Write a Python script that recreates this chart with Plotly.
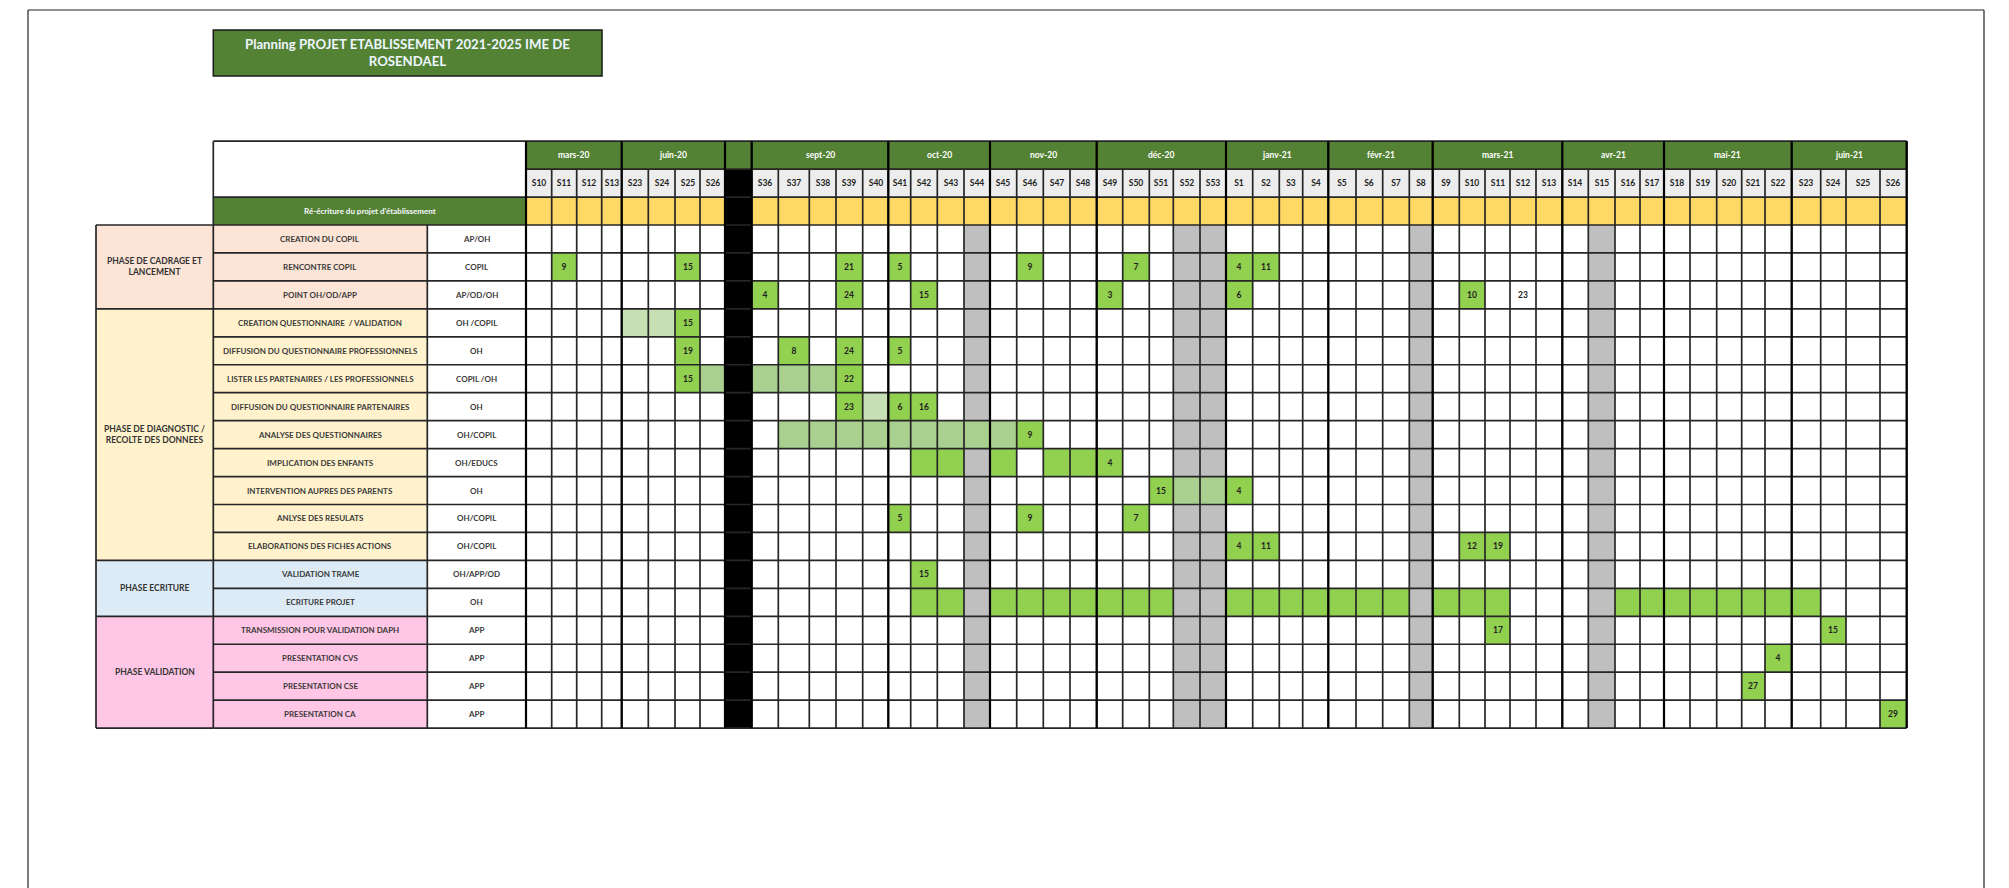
import plotly.graph_objects as go

# ---------------- data ----------------
title_text = "Planning PROJET ETABLISSEMENT 2021-2025 IME DE<br>ROSENDAEL"
section_title = "Ré-écriture du projet d'établissement"

months = ["mars-20", "juin-20", "", "sept-20", "oct-20", "nov-20", "déc-20",
          "janv-21", "févr-21", "mars-21", "avr-21", "mai-21", "juin-21"]
month_weeks = [4, 4, 1, 5, 4, 4, 5, 4, 4, 5, 4, 5, 4]
weeks = ["S10", "S11", "S12", "S13", "S23", "S24", "S25", "S26", "",
         "S36", "S37", "S38", "S39", "S40", "S41", "S42", "S43", "S44",
         "S45", "S46", "S47", "S48", "S49", "S50", "S51", "S52", "S53",
         "S1", "S2", "S3", "S4", "S5", "S6", "S7", "S8",
         "S9", "S10", "S11", "S12", "S13", "S14", "S15", "S16", "S17",
         "S18", "S19", "S20", "S21", "S22", "S23", "S24", "S25", "S26"]
break_weeks = [8]
holiday_weeks = [17, 25, 26, 34, 41]

phases = ["PHASE DE CADRAGE ET<br>LANCEMENT",
          "PHASE DE DIAGNOSTIC /<br>RECOLTE DES DONNEES",
          "PHASE ECRITURE",
          "PHASE VALIDATION"]
phase_tasks = [3, 9, 2, 4]
phase_colors = ["#FCE4D6", "#FFF2CC", "#DDEBF7", "#FFC6E5"]

tasks = ["CREATION DU COPIL", "RENCONTRE COPIL", "POINT OH/OD/APP",
         "CREATION QUESTIONNAIRE  / VALIDATION",
         "DIFFUSION DU QUESTIONNAIRE PROFESSIONNELS",
         "LISTER LES PARTENAIRES / LES PROFESSIONNELS",
         "DIFFUSION DU QUESTIONNAIRE PARTENAIRES",
         "ANALYSE DES QUESTIONNAIRES", "IMPLICATION DES ENFANTS",
         "INTERVENTION AUPRES DES PARENTS", "ANLYSE DES RESULATS",
         "ELABORATIONS DES FICHES ACTIONS",
         "VALIDATION TRAME", "ECRITURE PROJET",
         "TRANSMISSION POUR VALIDATION DAPH", "PRESENTATION CVS",
         "PRESENTATION CSE", "PRESENTATION CA"]
owners = ["AP/OH", "COPIL", "AP/OD/OH", "OH /COPIL", "OH", "COPIL /OH", "OH",
          "OH/COPIL", "OH/EDUCS", "OH", "OH/COPIL", "OH/COPIL",
          "OH/APP/OD", "OH", "APP", "APP", "APP", "APP"]

# (task index, week column, day label) -> dated meetings
milestones = [(1, 1, "9"), (1, 6, "15"), (1, 12, "21"), (1, 14, "5"), (1, 19, "9"),
              (1, 23, "7"), (1, 27, "4"), (1, 28, "11"),
              (2, 9, "4"), (2, 12, "24"), (2, 15, "15"), (2, 22, "3"), (2, 27, "6"),
              (2, 36, "10"),
              (3, 6, "15"),
              (4, 6, "19"), (4, 10, "8"), (4, 12, "24"), (4, 14, "5"),
              (5, 6, "15"), (5, 12, "22"),
              (6, 12, "23"), (6, 14, "6"), (6, 15, "16"),
              (7, 19, "9"),
              (8, 22, "4"),
              (9, 24, "15"), (9, 27, "4"),
              (10, 14, "5"), (10, 19, "9"), (10, 23, "7"),
              (11, 27, "4"), (11, 28, "11"), (11, 36, "12"), (11, 37, "19"),
              (12, 15, "15"),
              (14, 37, "17"), (14, 50, "15"),
              (15, 48, "4"),
              (16, 47, "27"),
              (17, 52, "29")]
notes = [(2, 38, "23")]
active_weeks = [(8, 15), (8, 16), (8, 18), (8, 20), (8, 21),
                (13, 15), (13, 16), (13, 18), (13, 19), (13, 20), (13, 21), (13, 22),
                (13, 23), (13, 24), (13, 27), (13, 28), (13, 29), (13, 30), (13, 31),
                (13, 32), (13, 33), (13, 35), (13, 36), (13, 37), (13, 42), (13, 43),
                (13, 44), (13, 45), (13, 46), (13, 47), (13, 48), (13, 49)]
planned_weeks = [(5, 7), (5, 9), (5, 10), (5, 11),
                 (7, 10), (7, 11), (7, 12), (7, 13), (7, 14), (7, 15), (7, 16),
                 (7, 17), (7, 18),
                 (9, 25), (9, 26)]
draft_weeks = [(3, 4), (3, 5), (6, 13)]

# ---------------- layout constants ----------------
PAGE_OFF = 8                      # default body margin of the html page
W, H = 2009 - PAGE_OFF, 888 - PAGE_OFF
# spreadsheet column edges (page pixels) of the week grid
COL_EDGES_PX = [526, 551.7, 576.7, 601.7, 621.7, 648.3, 675, 700, 725, 751.7,
                778.3, 809.3, 836, 862.7, 888.3, 910.7, 937.3, 964, 990, 1016.7,
                1043.3, 1070, 1096.7, 1122.7, 1149.3, 1173.3, 1200, 1226, 1252.7,
                1279.3, 1302.7, 1328.3, 1356, 1382.7, 1409.3, 1432.7, 1459.3, 1485,
                1510, 1536, 1562.3, 1588.3, 1615, 1640, 1664, 1690, 1716.7, 1741.7,
                1765, 1791.7, 1820.7, 1846, 1880, 1906.7]
GRID_TOP_PX, ROW_PX = 225.0, 27.95
X_PHASE, X_TASK, X_OWNER = 96.0, 213.3, 427.3
TITLE_X1, TITLE_Y0, TITLE_Y1 = 602.0, -6.98, -5.33

FONT = "Lato"
LINE = "#262626"
GREEN_DARK = "#548235"
C_WHITE, C_HOL, C_ACT, C_PLAN, C_DRAFT, C_BLACK, C_WEEK, C_YEL = range(8)
palette = ["#FFFFFF", "#BFBFBF", "#92D050", "#A9D08E", "#C6E0B4", "#000000",
           "#EDEDED", "#FFD966"]

ncol = len(weeks)
nrow = len(tasks)
E = COL_EDGES_PX
GX0, GX1 = E[0], E[ncol]

# ---------------- heatmap body ----------------
z, txt = [], []
z.append([C_BLACK if c in break_weeks else C_WEEK for c in range(ncol)])
txt.append(list(weeks))
z.append([C_BLACK if c in break_weeks else C_YEL for c in range(ncol)])
txt.append([""] * ncol)
for r in range(nrow):
    row = []
    for c in range(ncol):
        if c in break_weeks:
            row.append(C_BLACK)
        elif c in holiday_weeks:
            row.append(C_HOL)
        else:
            row.append(C_WHITE)
    z.append(row)
    txt.append([""] * ncol)
for (r, c) in active_weeks:
    z[r + 2][c] = C_ACT
for (r, c) in planned_weeks:
    z[r + 2][c] = C_PLAN
for (r, c) in draft_weeks:
    z[r + 2][c] = C_DRAFT
for (r, c, lab) in milestones:
    z[r + 2][c] = C_ACT
    txt[r + 2][c] = lab
for (r, c, lab) in notes:
    txt[r + 2][c] = lab

n = len(palette)
cscale = []
for i, col in enumerate(palette):
    cscale.append([i / n, col])
    cscale.append([(i + 1) / n, col])

fig = go.Figure()
fig.add_trace(go.Heatmap(
    z=z, text=txt, texttemplate="%{text}",
    x=E[:ncol + 1],
    y=list(range(-2, nrow + 1)),
    colorscale=cscale, zmin=-0.5, zmax=n - 0.5, showscale=False,
    hoverinfo="skip",
    textfont=dict(family=FONT, size=8.5, color="#222222", weight="bold"),
))

# ---------------- shapes for merged / label cells ----------------
shapes = []


def rect(x0, x1, y0, y1, fill, lw=0, lc=LINE, layer="below"):
    shapes.append(dict(type="rect", xref="x", yref="y", x0=x0, x1=x1, y0=y0, y1=y1,
                       fillcolor=fill, line=dict(width=lw, color=lc), layer=layer))


rect(GX0, GX1, -3, -2, GREEN_DARK)
rect(X_TASK, GX0, -3, -1, "#FFFFFF")
rect(X_TASK, GX0, -1, 0, GREEN_DARK)
start = 0
for p, cnt in enumerate(phase_tasks):
    rect(X_PHASE, X_TASK, start, start + cnt, phase_colors[p])
    for r in range(start, start + cnt):
        rect(X_TASK, X_OWNER, r, r + 1, phase_colors[p])
        rect(X_OWNER, GX0, r, r + 1, "#FFFFFF")
    start += cnt
rect(X_TASK, TITLE_X1, TITLE_Y0, TITLE_Y1, GREEN_DARK, lw=1.5, lc="#1a1a1a")

# outer page frame (page px -> paper fraction)
FL, FT, FR = 28 - PAGE_OFF, 10 - PAGE_OFF, 1984 - PAGE_OFF
fx0, fx1, fy = FL / W, FR / W, 1 - FT / H
for (a, b, c, d) in [(fx0, fx0, 0, fy), (fx0, fx1, fy, fy), (fx1, fx1, 0, fy)]:
    shapes.append(dict(type="line", xref="paper", yref="paper", x0=a, x1=b,
                       y0=c, y1=d, line=dict(color="#222", width=1.2)))

# ---------------- grid lines ----------------
lx, ly = [], []


def seg(x0, y0, x1, y1):
    lx.extend([x0, x1, None])
    ly.extend([y0, y1, None])


for c in range(ncol + 1):
    seg(E[c], -2, E[c], nrow)
for r in range(-2, nrow + 1):
    seg(GX0, r, GX1, r)
seg(GX0, -3, GX1, -3)
acc = 0
mb = [0]
for w in month_weeks:
    acc += w
    mb.append(acc)
for b in mb:
    seg(E[b], -3, E[b], -2)
seg(X_TASK, -3, GX0, -3)
seg(X_TASK, -3, X_TASK, nrow)
seg(X_TASK, -1, GX0, -1)
seg(X_PHASE, 0, X_PHASE, nrow)
seg(X_OWNER, 0, X_OWNER, nrow)
for r in range(0, nrow + 1):
    seg(X_TASK, r, GX0, r)
pb = [0]
for cnt in phase_tasks:
    pb.append(pb[-1] + cnt)
for b in pb:
    seg(X_PHASE, b, X_TASK, b)

fig.add_trace(go.Scatter(x=lx, y=ly, mode="lines", hoverinfo="skip",
                         line=dict(color=LINE, width=1.7), showlegend=False))
mx, my = [], []
for b in mb:
    mx.extend([E[b], E[b], None])
    my.extend([-3, nrow, None])
fig.add_trace(go.Scatter(x=mx, y=my, mode="lines", hoverinfo="skip",
                         line=dict(color="#000000", width=2.2), showlegend=False))

# ---------------- annotations ----------------
ann = []


def label(x, y, text, size=8, color="#333333", bold=True):
    ann.append(dict(x=x, y=y, xref="x", yref="y", text=text, showarrow=False,
                    xanchor="center", yanchor="middle",
                    font=dict(family=FONT, size=size, color=color,
                              weight="bold" if bold else "normal")))


label((X_TASK + TITLE_X1) / 2, (TITLE_Y0 + TITLE_Y1) / 2, title_text, size=13.2,
      color="#EEF6FF")
label((X_TASK + GX0) / 2, -0.5, section_title, size=8, color="#F4F9FF")
for i, m in enumerate(months):
    if m:
        label((E[mb[i]] + E[mb[i + 1]]) / 2, -2.5, m, size=8.5, color="#FFFFFF")
for p, name in enumerate(phases):
    label((X_PHASE + X_TASK) / 2, (pb[p] + pb[p + 1]) / 2, name, size=8.5,
          color="#333333")
for r in range(nrow):
    label((X_TASK + X_OWNER) / 2, r + 0.5, tasks[r], size=8, color="#3a3a3a")
    label((X_OWNER + GX0) / 2, r + 0.5, owners[r], size=8, color="#3a3a3a")

# axes: x in page pixels, y in table rows
xr = [PAGE_OFF, PAGE_OFF + W]
yr = [(H + PAGE_OFF - GRID_TOP_PX) / ROW_PX, (PAGE_OFF - GRID_TOP_PX) / ROW_PX]

fig.update_layout(
    width=W, height=H, margin=dict(l=0, r=0, t=0, b=0),
    paper_bgcolor="#FFFFFF", plot_bgcolor="#FFFFFF",
    xaxis=dict(range=xr, visible=False, fixedrange=True),
    yaxis=dict(range=yr, visible=False, fixedrange=True),
    shapes=shapes, annotations=ann, showlegend=False,
)
fig.write_html("out.html")
